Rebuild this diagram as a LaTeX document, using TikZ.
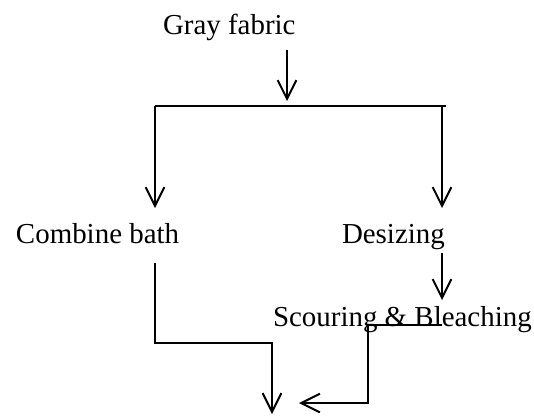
\documentclass[tikz,border=0pt]{standalone}
\usepackage{fontspec}
\setmainfont{Liberation Serif}
\usetikzlibrary{arrows.meta}
\begin{document}
\begin{tikzpicture}[x=0.75pt,y=-0.75pt, line width=1.5pt,
  lbl/.style={anchor=base west, inner sep=0, font=\fontsize{21.7}{26}\selectfont},
  flow/.style={-{Straight Barb[length=14pt,width=14pt,line width=1.5pt]}}]
\useasboundingbox (0,0) rectangle (534,415);
\node[lbl] (gray) at (162,34){Gray fabric};
\node[lbl] (comb) at (15,243){Combine bath};
\node[lbl] (desz) at (341,243){Desizing};
\node[lbl] (scbl) at (272,326){Scouring \& Bleaching};
\coordinate (g0) at (287,50);
\coordinate (g1) at (287,101);
\coordinate (bl) at (155,106);
\coordinate (br) at (446,106);
\coordinate (tl) at (155,208);
\coordinate (tr) at (442,208);
\coordinate (d0) at (442,253);
\coordinate (d1) at (442,300);
\coordinate (s0) at (442,325);
\coordinate (s1) at (368,325);
\coordinate (s2) at (368,403);
\coordinate (s3) at (299,403);
\coordinate (c0) at (155,263);
\coordinate (c1) at (155,343);
\coordinate (c2) at (272,343);
\coordinate (c3) at (272,414);
\draw[flow](g0) -- (g1);
\draw[](bl) -- (br);
\draw[flow](bl) -- (tl);
\draw[flow](tr |- bl) -- (tr);
\draw[flow](d0) -- (d1);
\draw[flow](s0) -- (s1) -- (s2) -- (s3);
\draw[flow](c0) -- (c1) -- (c2) -- (c3);
\end{tikzpicture}
\end{document}
